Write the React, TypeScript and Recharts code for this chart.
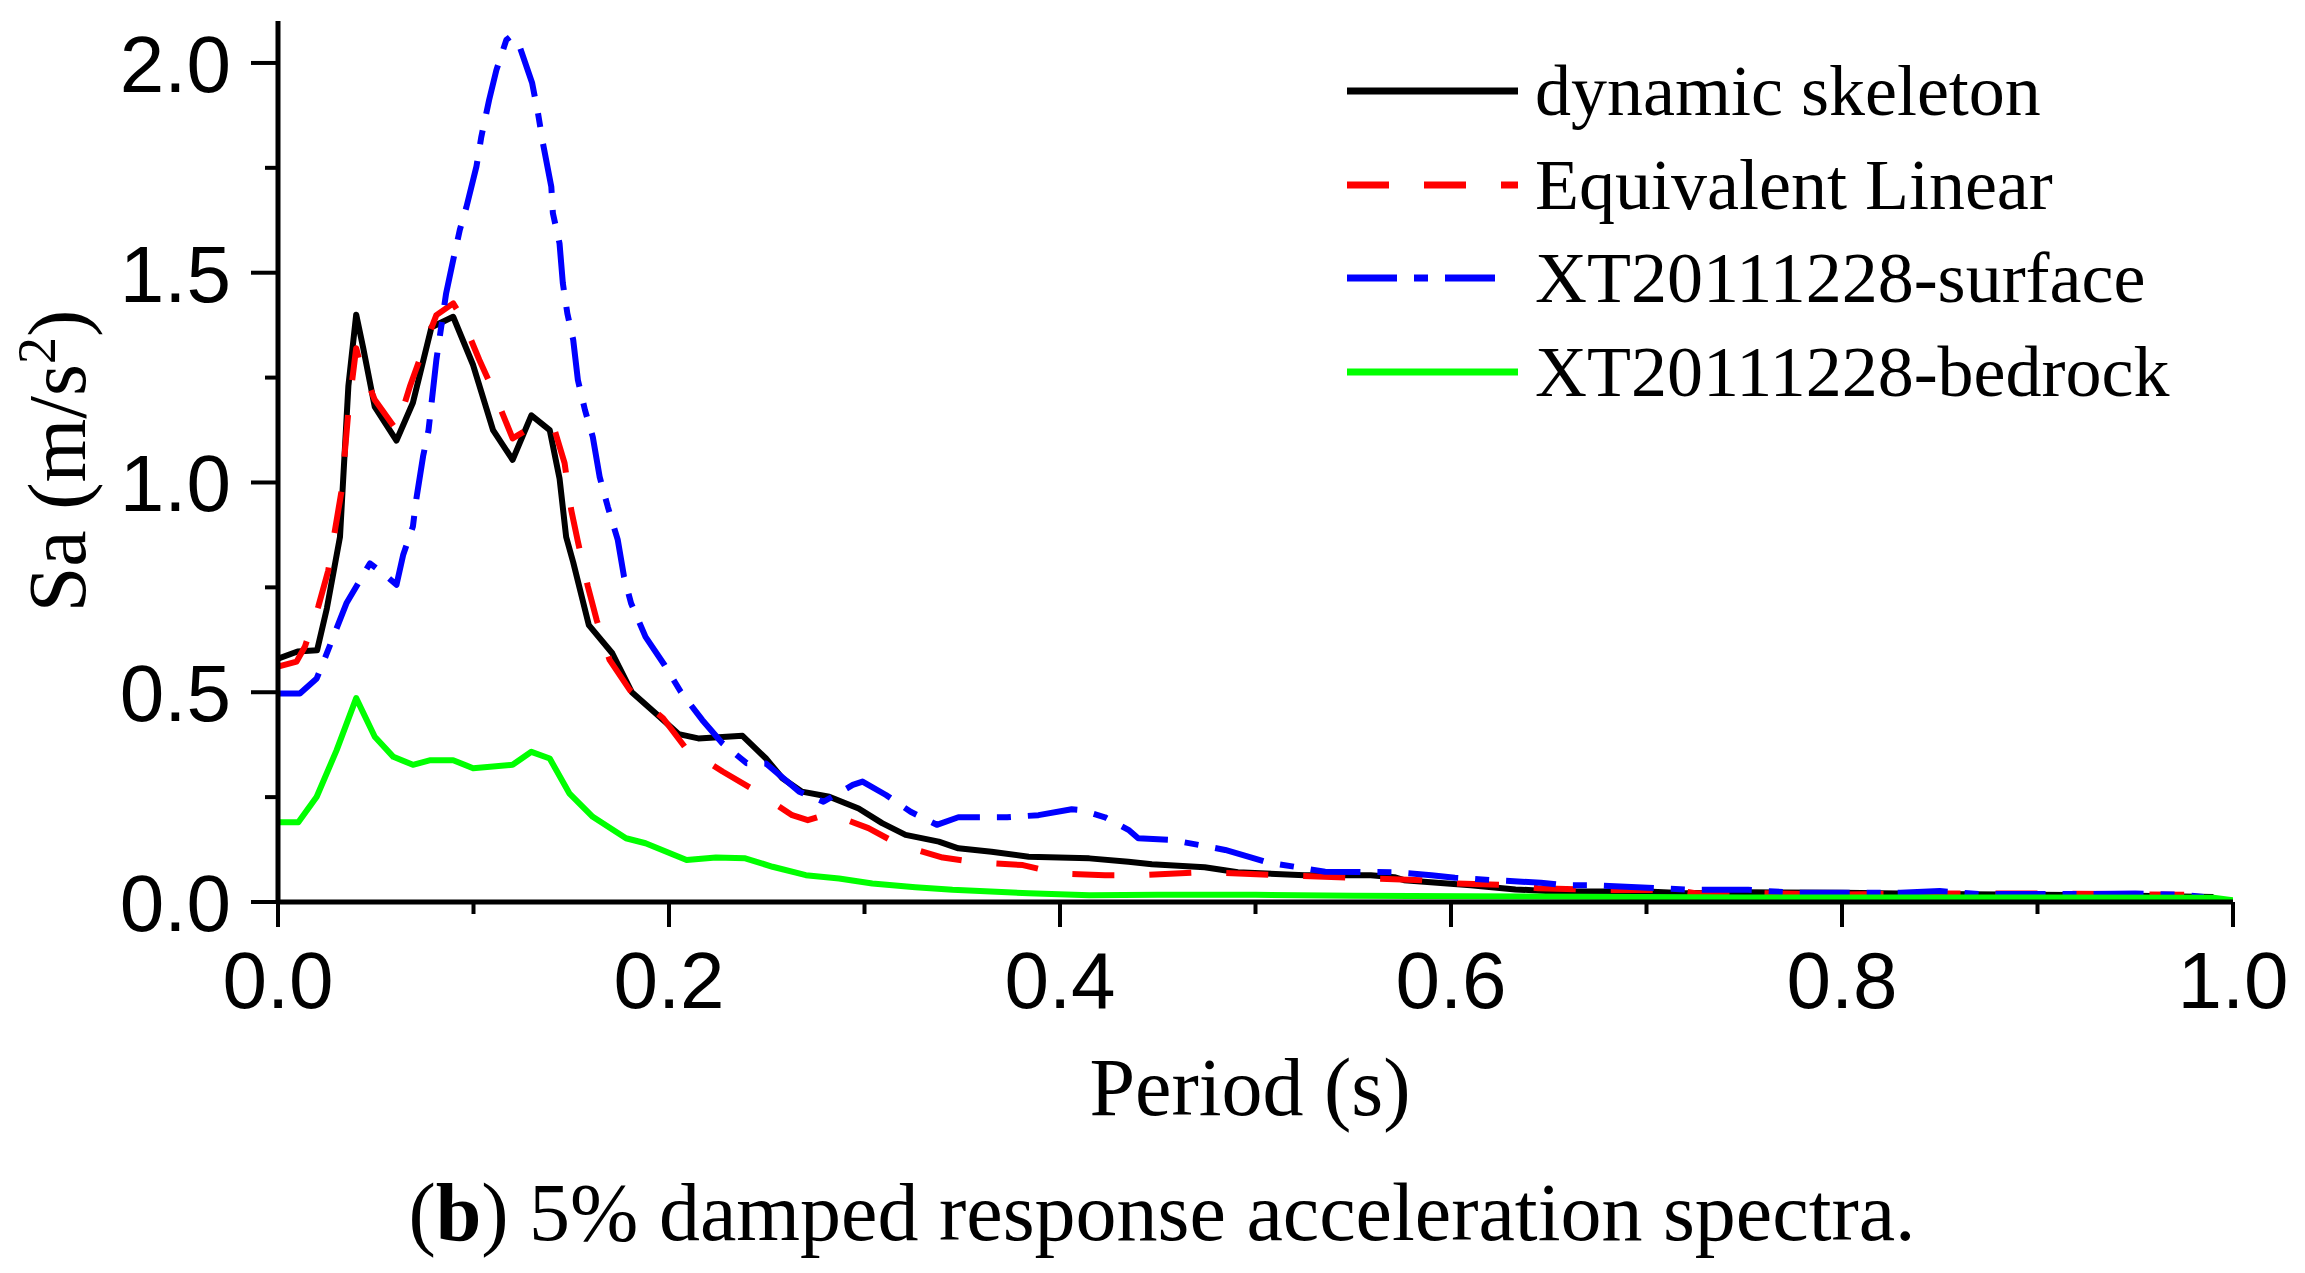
import React from 'react';
import { LineChart, Line, XAxis, YAxis, Legend, Label } from 'recharts';

// ---- data ----
const skeletonT = [0, 0.01, 0.02, 0.025, 0.0317, 0.036, 0.04, 0.0436, 0.0495, 0.0606, 0.069, 0.0785, 0.0896, 0.0998, 0.11, 0.12, 0.1296, 0.139, 0.144, 0.1474, 0.151, 0.159, 0.171, 0.181, 0.195, 0.205, 0.215, 0.2376, 0.2496, 0.258, 0.268, 0.282, 0.297, 0.309, 0.321, 0.338, 0.348, 0.365, 0.384, 0.415, 0.435, 0.447, 0.474, 0.491, 0.525, 0.559, 0.571, 0.576, 0.61, 0.633, 0.653, 0.7, 0.72, 0.75, 0.8, 0.85, 0.9, 0.935, 0.99];
const skeletonSa = [0.58, 0.597, 0.6, 0.7, 0.87, 1.23, 1.4, 1.32, 1.18, 1.1, 1.19, 1.37, 1.395, 1.28, 1.125, 1.054, 1.16, 1.125, 1.01, 0.87, 0.81, 0.66, 0.593, 0.5, 0.442, 0.4, 0.39, 0.396, 0.342, 0.295, 0.263, 0.251, 0.223, 0.188, 0.16, 0.144, 0.128, 0.12, 0.108, 0.104, 0.096, 0.09, 0.083, 0.071, 0.064, 0.064, 0.059, 0.052, 0.04, 0.03, 0.025, 0.025, 0.021, 0.023, 0.022, 0.019, 0.017, 0.016, 0.012];

const linearT = [0, 0.0095, 0.0138, 0.0206, 0.0257, 0.0325, 0.036, 0.04, 0.042, 0.0495, 0.0606, 0.0674, 0.0742, 0.081, 0.0896, 0.0938, 0.103, 0.11, 0.12, 0.13, 0.1415, 0.1466, 0.15, 0.1534, 0.1585, 0.163, 0.1696, 0.18, 0.197, 0.2087, 0.2274, 0.2436, 0.263, 0.271, 0.282, 0.302, 0.318, 0.34, 0.3585, 0.381, 0.399, 0.423, 0.44, 0.474, 0.513, 0.559, 0.585, 0.602, 0.631, 0.6445, 0.677, 0.716, 0.725, 0.755, 0.8, 0.85, 0.9, 0.94, 0.975];
const linearSa = [0.561, 0.573, 0.609, 0.704, 0.79, 0.98, 1.17, 1.32, 1.284, 1.197, 1.125, 1.228, 1.316, 1.399, 1.427, 1.395, 1.292, 1.22, 1.105, 1.133, 1.125, 1.046, 0.934, 0.859, 0.752, 0.672, 0.577, 0.505, 0.438, 0.366, 0.311, 0.267, 0.207, 0.195, 0.211, 0.176, 0.136, 0.106, 0.094, 0.088, 0.068, 0.064, 0.064, 0.071, 0.064, 0.056, 0.052, 0.044, 0.04, 0.033, 0.029, 0.028, 0.021, 0.021, 0.018, 0.02, 0.02, 0.019, 0.017];

const surfaceT = [0, 0.0112, 0.0198, 0.025, 0.035, 0.047, 0.0538, 0.0606, 0.064, 0.069, 0.0708, 0.0742, 0.077, 0.081, 0.086, 0.0896, 0.093, 0.0964, 0.1015, 0.104, 0.108, 0.1117, 0.1168, 0.119, 0.1236, 0.13, 0.133, 0.1355, 0.1398, 0.1406, 0.144, 0.1457, 0.148, 0.151, 0.1534, 0.157, 0.161, 0.1645, 0.1687, 0.1738, 0.177, 0.1806, 0.188, 0.1977, 0.206, 0.217, 0.2274, 0.2397, 0.2496, 0.2666, 0.279, 0.294, 0.299, 0.311, 0.3236, 0.337, 0.348, 0.373, 0.389, 0.406, 0.411, 0.423, 0.435, 0.44, 0.457, 0.471, 0.4845, 0.498, 0.5066, 0.52, 0.5356, 0.571, 0.59, 0.602, 0.622, 0.646, 0.658, 0.6735, 0.7007, 0.7245, 0.752, 0.7756, 0.8, 0.83, 0.85, 0.87, 0.92, 0.95, 0.975, 0.985];
const surfaceSa = [0.497, 0.497, 0.533, 0.593, 0.712, 0.807, 0.783, 0.756, 0.827, 0.895, 0.962, 1.062, 1.125, 1.292, 1.451, 1.53, 1.602, 1.657, 1.753, 1.824, 1.912, 1.983, 2.055, 2.063, 2.039, 1.952, 1.88, 1.809, 1.705, 1.642, 1.57, 1.475, 1.403, 1.34, 1.244, 1.173, 1.109, 1.014, 0.942, 0.863, 0.775, 0.712, 0.632, 0.565, 0.501, 0.434, 0.378, 0.331, 0.33, 0.263, 0.239, 0.279, 0.287, 0.255, 0.215, 0.184, 0.202, 0.202, 0.207, 0.221, 0.219, 0.202, 0.172, 0.152, 0.148, 0.136, 0.124, 0.106, 0.094, 0.084, 0.072, 0.071, 0.064, 0.058, 0.052, 0.046, 0.04, 0.04, 0.034, 0.029, 0.029, 0.022, 0.022, 0.022, 0.026, 0.019, 0.019, 0.02, 0.017, 0.012];

const bedrockT = [0, 0.0104, 0.0198, 0.03, 0.04, 0.0495, 0.059, 0.069, 0.078, 0.0896, 0.0998, 0.12, 0.1296, 0.139, 0.149, 0.161, 0.178, 0.188, 0.209, 0.224, 0.239, 0.253, 0.27, 0.287, 0.304, 0.326, 0.345, 0.384, 0.415, 0.45, 0.5, 0.55, 0.64, 0.75, 0.9, 0.99, 1.0];
const bedrockSa = [0.19, 0.19, 0.251, 0.362, 0.486, 0.394, 0.346, 0.327, 0.338, 0.338, 0.319, 0.327, 0.358, 0.342, 0.259, 0.203, 0.152, 0.14, 0.1, 0.106, 0.104, 0.084, 0.064, 0.056, 0.044, 0.035, 0.029, 0.021, 0.016, 0.017, 0.017, 0.015, 0.013, 0.011, 0.011, 0.01, 0.004];

const xTicks = [0, 0.1, 0.2, 0.3, 0.4, 0.5, 0.6, 0.7, 0.8, 0.9, 1.0];
const yTicks = [0, 0.25, 0.5, 0.75, 1.0, 1.25, 1.5, 1.75, 2.0];

const seriesNames = ['dynamic skeleton', 'Equivalent Linear', 'XT20111228-surface', 'XT20111228-bedrock'];
const seriesColors = ['#000000', '#ff0000', '#0000ff', '#00ff00'];
const seriesDash = ['', '42 35', '50 17 14 17', ''];

const toData = (ts: number[], vs: number[]) => ts.map((t, i) => ({ t, v: vs[i] }));
const seriesData = [
  toData(skeletonT, skeletonSa),
  toData(linearT, linearSa),
  toData(surfaceT, surfaceSa),
  toData(bedrockT, bedrockSa),
];

const SANS = '"Liberation Sans", Arial, sans-serif';
const SERIF = '"Liberation Serif", "Times New Roman", serif';

const XTick = (props: any) => {
  const { x, y, payload } = props;
  const v = payload.value as number;
  const major = Math.round(v * 10) % 2 === 0;
  return (
    <g>
      <line x1={x} y1={y} x2={x} y2={y + (major ? 25 : 12)} stroke="#000" strokeWidth={4} />
      {major && (
        <text x={x} y={y + 106} textAnchor="middle" fontFamily={SANS} fontSize={80} fill="#000">
          {v.toFixed(1)}
        </text>
      )}
    </g>
  );
};

const YTick = (props: any) => {
  const { x, y, payload } = props;
  const v = payload.value as number;
  const major = Math.round(v * 4) % 2 === 0;
  return (
    <g>
      <line x1={x} y1={y} x2={x - (major ? 27 : 13)} y2={y} stroke="#000" strokeWidth={4} />
      {major && (
        <text x={x - 47} y={y + 29} textAnchor="end" fontFamily={SANS} fontSize={80} fill="#000">
          {v.toFixed(1)}
        </text>
      )}
    </g>
  );
};

const renderLegend = () => {
  const rows = [63, 157, 250, 344];
  return (
    <svg width={900} height={400} style={{ overflow: 'visible' }}>
      {seriesNames.map((name, i) => (
        <g key={name}>
          <line
            x1={0}
            y1={rows[i]}
            x2={i === 2 ? 150 : 171}
            y2={rows[i]}
            stroke={seriesColors[i]}
            strokeWidth={7}
            strokeDasharray={seriesDash[i] || undefined}
          />
          <text x={188} y={rows[i] + 24} fontFamily={SERIF} fontSize={72} fill="#000">
            {name}
          </text>
        </g>
      ))}
    </svg>
  );
};

export default function App() {
  return (
    <div style={{ width: 2289, height: 1257, background: '#fff' }}>
      <LineChart width={2289} height={1257} margin={{ top: 13, right: 64, bottom: 0, left: 0 }}>
        <XAxis
          type="number"
          dataKey="t"
          domain={[0, 1]}
          ticks={xTicks}
          interval={0}
          tickSize={0}
          tickMargin={0}
          tickLine={false}
          tick={<XTick />}
          axisLine={{ stroke: '#000', strokeWidth: 5 }}
          height={363}
          allowDataOverflow
        >
          <Label
            content={() => (
              <text x={1242} y={1107} textAnchor="middle" fontFamily={SERIF} fontSize={82} fill="#000">
                Period (s)
              </text>
            )}
          />
          <Label
            content={() => (
              <text x={1154} y={1232} textAnchor="middle" fontFamily={SERIF} fontSize={82} fill="#000">
                (<tspan fontWeight="bold">b</tspan>) 5% damped response acceleration spectra.
              </text>
            )}
          />
        </XAxis>
        <YAxis
          type="number"
          domain={[0, 2.1]}
          ticks={yTicks}
          interval={0}
          tickSize={0}
          tickMargin={0}
          tickLine={false}
          tick={<YTick />}
          axisLine={{ stroke: '#000', strokeWidth: 5 }}
          width={270}
          allowDataOverflow
        >
          <Label
            content={() => (
              <text
                x={77}
                y={453}
                transform="rotate(-90 77 453)"
                textAnchor="middle"
                fontFamily={SERIF}
                fontSize={82}
                fill="#000"
              >
                Sa (m/s<tspan dy={-30} fontSize={54}>2</tspan>
                <tspan dy={30}>)</tspan>
              </text>
            )}
          />
        </YAxis>
        <Legend
          layout="vertical"
          align="center"
          verticalAlign="middle"
          content={renderLegend}
          wrapperStyle={{ position: 'absolute', left: 1339, top: 20, width: 900, height: 400 }}
        />
        {seriesData.map((d, i) => (
          <Line
            key={seriesNames[i]}
            data={d}
            dataKey="v"
            name={seriesNames[i]}
            type="linear"
            stroke={seriesColors[i]}
            strokeWidth={6}
            strokeDasharray={seriesDash[i] || undefined}
            dot={false}
            activeDot={false}
            isAnimationActive={false}
            strokeLinejoin="round"
          />
        ))}
      </LineChart>
    </div>
  );
}
